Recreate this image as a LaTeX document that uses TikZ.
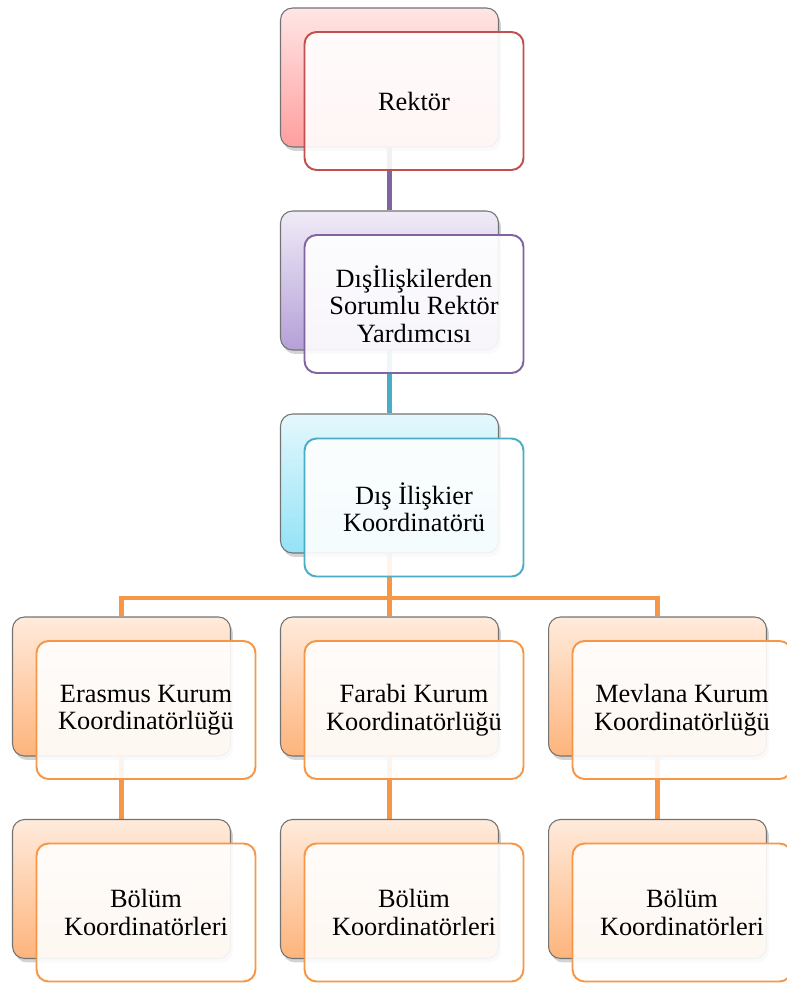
\documentclass[tikz,border=0pt]{standalone}
\usepackage{fontspec}
\setmainfont{Liberation Serif}
\usetikzlibrary{shadows,backgrounds}

\definecolor{redline}{HTML}{C0504D}
\definecolor{redtop}{HTML}{FFE6E6}
\definecolor{redbot}{HTML}{FF9E9E}
\definecolor{purline}{HTML}{8064A2}
\definecolor{purtop}{HTML}{F0EBF7}
\definecolor{purbot}{HTML}{B4A0D8}
\definecolor{tealine}{HTML}{4BACC6}
\definecolor{teatop}{HTML}{E4F8FD}
\definecolor{teabot}{HTML}{93E3F6}
\definecolor{orgline}{HTML}{F79646}
\definecolor{orgtop}{HTML}{FFEBDC}
\definecolor{orgbot}{HTML}{FDB47C}

\begin{document}
\begin{tikzpicture}[x=0.02cm,y=-0.02cm,
  back/.style 2 args={draw=black!55,line width=0.6pt,rounded corners=0.24cm,
    minimum width=4.36cm,minimum height=2.78cm,top color=#1,bottom color=#2,
    drop shadow={opacity=0.35,shadow xshift=0.5mm,shadow yshift=-0.8mm}},
  front/.style={draw=#1,line width=1.1pt,rounded corners=0.24cm,fill=white,
    fill opacity=0.9,text opacity=1,minimum width=4.38cm,minimum height=2.76cm,
    align=center,font=\fontsize{15}{15.6}\selectfont},
  link/.style={line width=2.5pt,draw=#1}]
  \useasboundingbox (0,0) rectangle (787,983);
  % top of the chart
  \node[back={redtop}{redbot}] (Rb) at (389.5,77.5) {};
  \node[front=redline] (R) at (414,101) {Rektör};
  \node[back={purtop}{purbot}] (Yb) at (389.5,280.5) {};
  \node[front=purline] (Y) at (414,304) {Dışİlişkilerden\\Sorumlu Rektör\\Yardımcısı};
  \node[back={teatop}{teabot}] (Kb) at (389.5,483.5) {};
  \node[front=tealine] (K) at (414,507.5) {Dış İlişkier\\Koordinatörü};
  % programme offices
  \node[back={orgtop}{orgbot}] (Eb) at (121.5,686.5) {};
  \node[front=orgline] (E) at (146,710) {Erasmus Kurum\\Koordinatörlüğü};
  \node[back={orgtop}{orgbot}] (Fb) at (389.5,686.5) {};
  \node[front=orgline] (F) at (414,710) {Farabi Kurum\\Koordinatörlüğü};
  \node[back={orgtop}{orgbot}] (Mb) at (657.5,686.5) {};
  \node[front=orgline] (M) at (682,710) {Mevlana Kurum\\Koordinatörlüğü};
  % department coordinators
  \node[back={orgtop}{orgbot}] (EBb) at (121.5,889) {};
  \node[front=orgline] (EB) at (146,912.5) {Bölüm\\Koordinatörleri};
  \node[back={orgtop}{orgbot}] (FBb) at (389.5,889) {};
  \node[front=orgline] (FB) at (414,912.5) {Bölüm\\Koordinatörleri};
  \node[back={orgtop}{orgbot}] (MBb) at (657.5,889) {};
  \node[front=orgline] (MB) at (682,912.5) {Bölüm\\Koordinatörleri};
  \coordinate (bar) at (389.5,598);
  \begin{scope}[on background layer]
    \draw[link=purline] (Rb.south) -- (Yb.north);
    \draw[link=tealine] (Yb.south) -- (Kb.north);
    \draw[link=orgline] (Kb.south) -- (bar);
    \draw[link=orgline] (Eb.north) |- (bar) -| (Mb.north);
    \draw[link=orgline] (bar) -- (Fb.north);
    \draw[link=orgline] (Eb.south) -- (EBb.north);
    \draw[link=orgline] (Fb.south) -- (FBb.north);
    \draw[link=orgline] (Mb.south) -- (MBb.north);
  \end{scope}
\end{tikzpicture}
\end{document}
